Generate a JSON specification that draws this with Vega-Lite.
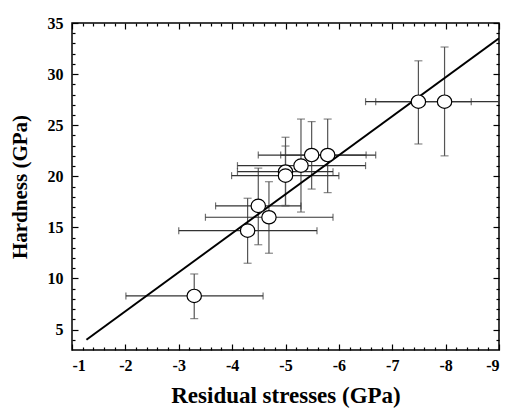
{
  "$schema": "https://vega.github.io/schema/vega-lite/v6.json",
  "width": 427,
  "height": 327,
  "autosize": "none",
  "padding": {"left": 72, "top": 23, "right": 7, "bottom": 58},
  "background": "white",
  "config": {
    "view": {"stroke": "black", "strokeWidth": 1.5},
    "axis": {
      "grid": false,
      "domain": false,
      "tickColor": "black",
      "tickWidth": 1.2,
      "labelFont": "Liberation Serif",
      "labelFontWeight": "bold",
      "labelFontSize": 16,
      "labelColor": "black",
      "titleFont": "Liberation Serif",
      "titleFontWeight": "bold",
      "titleFontSize": 21,
      "titleColor": "black"
    }
  },
  "datasets": {
    "pts": [
      {"x": -3.29, "y": 8.29, "xlo": -2.01, "xhi": -4.58, "ylo": 6.07, "yhi": 10.44},
      {"x": -4.29, "y": 14.68, "xlo": -3.0, "xhi": -5.59, "ylo": 11.49, "yhi": 17.85},
      {"x": -4.49, "y": 17.1, "xlo": -3.69, "xhi": -5.29, "ylo": 13.3, "yhi": 20.8},
      {"x": -4.69, "y": 15.99, "xlo": -3.5, "xhi": -5.89, "ylo": 12.47, "yhi": 19.47},
      {"x": -5.0, "y": 20.45, "xlo": -4.1, "xhi": -5.89, "ylo": 17.09, "yhi": 23.82},
      {"x": -5.0, "y": 20.06, "xlo": -3.99, "xhi": -6.0, "ylo": 17.15, "yhi": 22.96},
      {"x": -5.29, "y": 21.04, "xlo": -4.1, "xhi": -6.5, "ylo": 16.5, "yhi": 25.6},
      {"x": -5.49, "y": 22.08, "xlo": -4.49, "xhi": -6.51, "ylo": 18.75, "yhi": 25.35},
      {"x": -5.79, "y": 22.08, "xlo": -4.91, "xhi": -6.69, "ylo": 18.4, "yhi": 25.6},
      {"x": -7.49, "y": 27.3, "xlo": -6.5, "xhi": -8.48, "ylo": 23.16, "yhi": 31.3},
      {"x": -7.98, "y": 27.3, "xlo": -6.69, "xhi": -9.27, "ylo": 22.0, "yhi": 32.65}
    ],
    "fit": [
      {"x": -1.27, "y": 4.0},
      {"x": -9.0, "y": 33.5}
    ]
  },
  "resolve": {"axis": {"x": "independent", "y": "independent"}},
  "layer": [
    {
      "data": {"name": "pts"},
      "mark": {"type": "rule", "color": "#555", "strokeWidth": 1.2, "clip": true},
      "encoding": {
        "x": {"field": "x", "type": "quantitative",
              "scale": {"domain": [-9, -1], "reverse": true, "nice": false, "zero": false},
              "axis": {"orient": "bottom", "offset": -6, "values": [-1, -2, -3, -4, -5, -6, -7, -8, -9], "tickSize": 6,
                       "labelExpr": "datum.value + ''", "labelPadding": 7, "title": "Residual stresses (GPa)", "titleFontSize": 23, "titlePadding": 11}},
        "y": {"field": "ylo", "type": "quantitative",
              "scale": {"domain": [3, 35], "nice": false, "zero": false},
              "axis": {"orient": "left", "offset": -6, "values": [5, 10, 15, 20, 25, 30, 35], "tickSize": 6,
                       "labelPadding": 9, "title": "Hardness (GPa)", "titlePadding": 17}},
        "y2": {"field": "yhi"}
      }
    },
    {
      "data": {"name": "pts"},
      "mark": {"type": "rule", "color": "#333", "strokeWidth": 1.2, "clip": true},
      "encoding": {
        "x": {"field": "xlo", "type": "quantitative",
              "scale": {"domain": [-9, -1], "reverse": true, "nice": false, "zero": false},
              "axis": {"orient": "top", "offset": -6, "values": [-1, -2, -3, -4, -5, -6, -7, -8, -9], "tickSize": 6, "labels": false, "title": null}},
        "x2": {"field": "xhi"},
        "y": {"field": "y", "type": "quantitative",
              "scale": {"domain": [3, 35], "nice": false, "zero": false},
              "axis": {"orient": "right", "offset": -6, "values": [5, 10, 15, 20, 25, 30, 35], "tickSize": 6, "labels": false, "title": null}}
      }
    },
    {
      "data": {"name": "pts"},
      "mark": {"type": "tick", "orient": "horizontal", "color": "#555", "size": 8, "thickness": 1.2, "clip": true},
      "encoding": {
        "x": {"field": "x", "type": "quantitative",
              "scale": {"domain": [-9, -1], "reverse": true, "nice": false, "zero": false},
              "axis": {"orient": "bottom", "offset": -3, "values": [-1.2, -1.4, -1.6, -1.8, -2.2, -2.4, -2.6, -2.8, -3.2, -3.4, -3.6, -3.8, -4.2, -4.4, -4.6, -4.8, -5.2, -5.4, -5.6, -5.8, -6.2, -6.4, -6.6, -6.8, -7.2, -7.4, -7.6, -7.8, -8.2, -8.4, -8.6, -8.8], "tickSize": 3, "labels": false, "title": null}},
        "y": {"field": "ylo", "type": "quantitative",
              "scale": {"domain": [3, 35], "nice": false, "zero": false},
              "axis": {"orient": "left", "offset": -3, "values": [4, 6, 7, 8, 9, 11, 12, 13, 14, 16, 17, 18, 19, 21, 22, 23, 24, 26, 27, 28, 29, 31, 32, 33, 34], "tickSize": 3, "labels": false, "title": null}}
      }
    },
    {
      "data": {"name": "pts"},
      "mark": {"type": "tick", "orient": "horizontal", "color": "#555", "size": 8, "thickness": 1.2, "clip": true},
      "encoding": {
        "x": {"field": "x", "type": "quantitative",
              "scale": {"domain": [-9, -1], "reverse": true, "nice": false, "zero": false},
              "axis": {"orient": "top", "offset": -3, "values": [-1.2, -1.4, -1.6, -1.8, -2.2, -2.4, -2.6, -2.8, -3.2, -3.4, -3.6, -3.8, -4.2, -4.4, -4.6, -4.8, -5.2, -5.4, -5.6, -5.8, -6.2, -6.4, -6.6, -6.8, -7.2, -7.4, -7.6, -7.8, -8.2, -8.4, -8.6, -8.8], "tickSize": 3, "labels": false, "title": null}},
        "y": {"field": "yhi", "type": "quantitative",
              "scale": {"domain": [3, 35], "nice": false, "zero": false},
              "axis": {"orient": "right", "offset": -3, "values": [4, 6, 7, 8, 9, 11, 12, 13, 14, 16, 17, 18, 19, 21, 22, 23, 24, 26, 27, 28, 29, 31, 32, 33, 34], "tickSize": 3, "labels": false, "title": null}}
      }
    },
    {
      "data": {"name": "pts"},
      "mark": {"type": "tick", "orient": "vertical", "color": "#333", "size": 7, "thickness": 1.2, "clip": true},
      "encoding": {
        "x": {"field": "xlo", "type": "quantitative", "scale": {"domain": [-9, -1], "reverse": true, "nice": false, "zero": false}, "axis": null},
        "y": {"field": "y", "type": "quantitative", "scale": {"domain": [3, 35], "nice": false, "zero": false}, "axis": null}
      }
    },
    {
      "data": {"name": "pts"},
      "mark": {"type": "tick", "orient": "vertical", "color": "#333", "size": 7, "thickness": 1.2, "clip": true},
      "encoding": {
        "x": {"field": "xhi", "type": "quantitative", "scale": {"domain": [-9, -1], "reverse": true, "nice": false, "zero": false}, "axis": null},
        "y": {"field": "y", "type": "quantitative", "scale": {"domain": [3, 35], "nice": false, "zero": false}, "axis": null}
      }
    },
    {
      "data": {"name": "fit"},
      "mark": {"type": "line", "color": "black", "strokeWidth": 2, "clip": true},
      "encoding": {
        "x": {"field": "x", "type": "quantitative", "scale": {"domain": [-9, -1], "reverse": true, "nice": false, "zero": false}, "axis": null},
        "y": {"field": "y", "type": "quantitative", "scale": {"domain": [3, 35], "nice": false, "zero": false}, "axis": null}
      }
    },
    {
      "data": {"name": "pts"},
      "mark": {"type": "point", "shape": "M-1.07,0A1.07,1,0,1,0,1.07,0A1.07,1,0,1,0,-1.07,0Z", "size": 180, "filled": true, "fill": "white", "stroke": "black", "strokeWidth": 1.2, "opacity": 1},
      "encoding": {
        "x": {"field": "x", "type": "quantitative", "scale": {"domain": [-9, -1], "reverse": true, "nice": false, "zero": false}, "axis": null},
        "y": {"field": "y", "type": "quantitative", "scale": {"domain": [3, 35], "nice": false, "zero": false}, "axis": null}
      }
    }
  ]
}
